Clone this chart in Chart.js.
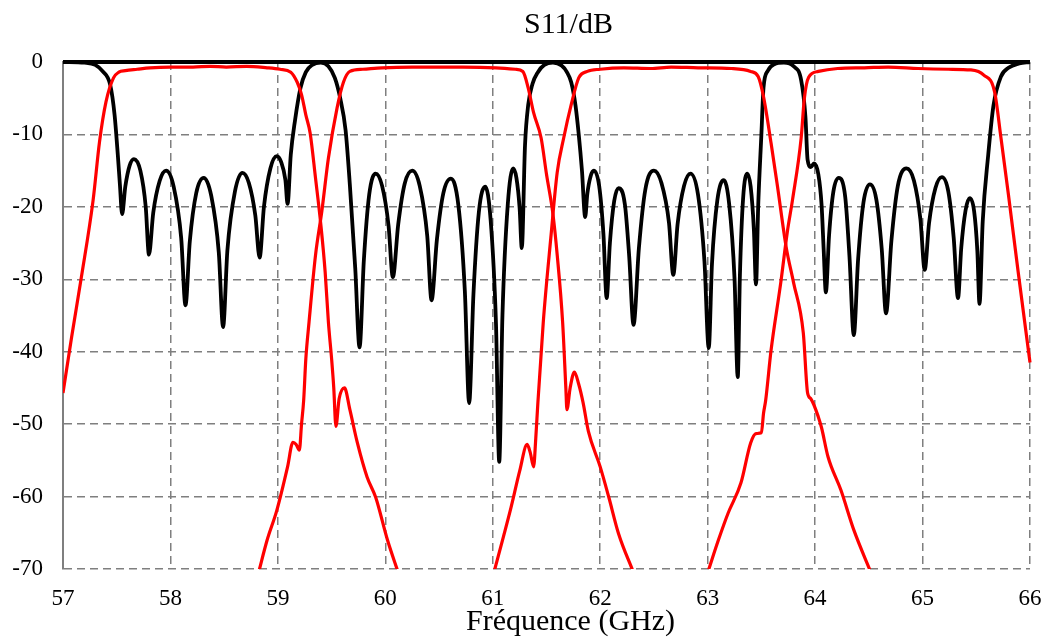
<!DOCTYPE html>
<html>
<head>
<meta charset="utf-8">
<script src="https://cdn.jsdelivr.net/npm/chart.js@4"></script>
<style>
  html, body { margin: 0; padding: 0; background: #fff; }
</style>
</head>
<body>
<canvas id="myChart" width="1042" height="637"></canvas>
<script>
// axis ticks
var freqTicks = [57, 58, 59, 60, 61, 62, 63, 64, 65, 66];
var dbTicks = [0, -10, -20, -30, -40, -50, -60, -70];
var chartTitle = "S11/dB";
var xTitle = "Fréquence (GHz)";

// [GHz, dB]
var s11 = [
  [57.00, 0], [57.20, -0.1], [57.30, -0.4], [57.37, -1.3], [57.44, -3.2], [57.48, -7.3], [57.51, -12.8], [57.53, -17], [57.55, -21],
  [57.58, -17.2], [57.62, -14.3], [57.66, -13.4], [57.72, -15.0], [57.77, -20.0], [57.80, -26.6],
  [57.84, -20.8], [57.90, -16.4], [57.96, -15.0], [58.03, -17.2], [58.10, -24.3], [58.14, -33.6],
  [58.18, -24.8], [58.24, -18.1], [58.31, -16.0], [58.38, -18.5], [58.45, -26.3], [58.49, -36.6],
  [58.53, -26.0], [58.60, -17.9], [58.67, -15.3], [58.73, -16.7], [58.79, -21.2], [58.83, -27.0],
  [58.87, -20.0], [58.93, -14.7], [58.99, -13.0], [59.03, -13.8], [59.07, -16.3], [59.09, -19.6],
  [59.12, -12.8], [59.16, -8.0], [59.21, -3.6], [59.26, -1.4], [59.32, -0.4], [59.40, -0.1], [59.47, -0.6],
  [59.53, -2.2], [59.58, -5.0], [59.63, -9.4], [59.67, -17.0], [59.72, -28.5], [59.76, -39.4],
  [59.80, -27.4], [59.85, -18.3], [59.91, -15.4], [59.97, -17.1], [60.03, -22.6], [60.07, -29.7],
  [60.12, -22.4], [60.18, -16.8], [60.25, -15.0], [60.32, -17.1], [60.39, -24.0], [60.43, -32.9],
  [60.48, -24.5], [60.54, -18.1], [60.61, -16.1], [60.68, -19.8], [60.74, -31.6], [60.78, -47.1],
  [60.82, -32.1], [60.87, -20.8], [60.93, -17.2], [60.98, -21.8], [61.03, -36.2], [61.06, -55.2],
  [61.09, -35.0], [61.14, -19.6], [61.19, -14.7], [61.22, -16.0], [61.25, -20.2], [61.27, -25.7],
  [61.30, -11.5], [61.33, -5.9], [61.37, -3.0], [61.42, -1.4], [61.48, -0.4], [61.56, -0.1], [61.64, -0.5],
  [61.69, -1.4], [61.73, -2.8], [61.77, -6.0], [61.80, -10.0], [61.83, -15.0], [61.86, -21.4],
  [61.88, -18.2], [61.91, -15.8], [61.94, -15.0], [61.99, -17.1], [62.03, -23.8], [62.06, -32.6],
  [62.09, -25.0], [62.13, -19.2], [62.17, -17.4], [62.23, -19.7], [62.27, -26.9], [62.31, -36.3],
  [62.36, -25.7], [62.42, -17.6], [62.50, -15.0], [62.57, -16.7], [62.64, -22.2], [62.68, -29.4],
  [62.72, -22.4], [62.78, -17.1], [62.84, -15.4], [62.91, -18.3], [62.97, -27.5], [63.01, -39.5],
  [63.04, -27.9], [63.09, -19.1], [63.15, -16.3], [63.20, -19.6], [63.25, -29.9], [63.28, -43.5],
  [63.30, -29.5], [63.33, -18.8], [63.37, -15.4], [63.40, -17.2], [63.43, -23.1], [63.45, -30.7],
  [63.47, -20.0], [63.50, -10.0], [63.52, -3.5], [63.56, -1.2], [63.62, -0.3], [63.71, -0.1], [63.80, -0.6],
  [63.87, -2.5], [63.91, -7.6], [63.93, -13.5], [63.96, -14.5], [63.99, -14.0], [64.03, -15.5], [64.06, -19.7], [64.08, -26.0], [64.10, -31.8],
  [64.13, -23.9], [64.17, -17.9], [64.22, -16.0], [64.28, -18.6], [64.32, -26.9], [64.36, -37.7],
  [64.40, -27.3], [64.45, -19.4], [64.51, -16.9], [64.57, -19.0], [64.62, -25.8], [64.66, -34.7],
  [64.71, -24.7], [64.77, -17.1], [64.85, -14.7], [64.92, -16.4], [64.98, -21.7], [65.02, -28.7],
  [65.06, -22.3], [65.12, -17.4], [65.18, -15.9], [65.24, -17.9], [65.29, -24.3], [65.33, -32.6],
  [65.36, -25.7], [65.40, -20.5], [65.44, -18.8], [65.48, -20.6], [65.51, -26.1], [65.53, -33.4],
  [65.56, -22.0], [65.61, -13.0], [65.66, -6.0], [65.73, -2.0], [65.80, -0.8], [65.90, -0.2], [66.00, 0]
];

var s11Top = [[57.00, 0], [66.00, 0]];

var s21Ch1 = [
  [57.00, -45.7], [57.08, -38.0], [57.17, -29.8], [57.28, -19.1], [57.34, -11.0], [57.40, -5.5], [57.47, -2.2],
  [57.52, -1.4], [57.58, -1.2], [57.69, -1.0], [57.81, -0.8], [58.00, -0.7], [58.21, -0.7], [58.37, -0.6],
  [58.52, -0.7], [58.71, -0.6], [58.90, -0.8], [59.02, -1.0], [59.12, -1.4], [59.18, -2.8], [59.22, -4.5],
  [59.26, -7.3], [59.30, -9.8], [59.35, -16.0], [59.40, -22.5], [59.44, -29.0], [59.47, -35.9], [59.50, -41.0],
  [59.52, -45.0], [59.54, -50.3], [59.57, -46.5], [59.62, -45.0], [59.67, -48.0], [59.74, -52.6], [59.83, -57.3],
  [59.91, -60.1], [60.02, -66.0], [60.12, -70.5]
];

var s21Ch2 = [
  [58.82, -70.5], [58.90, -66.0], [58.99, -61.9], [59.09, -55.9], [59.14, -52.5], [59.17, -52.8], [59.20, -53.6],
  [59.22, -50.0], [59.24, -46.7], [59.26, -41.0], [59.29, -35.9], [59.35, -26.7], [59.41, -20.5], [59.47, -13.3],
  [59.55, -6.4], [59.61, -2.8], [59.67, -1.3], [59.79, -1.0], [59.97, -0.8], [60.25, -0.7], [60.47, -0.7],
  [60.72, -0.7], [61.03, -0.8], [61.21, -1.0], [61.28, -1.3], [61.33, -3.6], [61.38, -7.0], [61.45, -10.5],
  [61.50, -15.5], [61.56, -21.0], [61.60, -26.7], [61.65, -35.9], [61.68, -45.0], [61.69, -48.0], [61.72, -45.0],
  [61.76, -42.8], [61.80, -44.5], [61.84, -47.0], [61.89, -51.0], [62.00, -55.9], [62.08, -60.1], [62.17, -65.1],
  [62.31, -70.5]
];

var s21Ch3 = [
  [61.01, -70.5], [61.10, -65.5], [61.17, -61.5], [61.25, -56.5], [61.32, -52.8], [61.35, -54.0], [61.38, -55.9],
  [61.40, -52.0], [61.42, -47.0], [61.47, -35.9], [61.54, -24.3], [61.60, -15.2], [61.66, -10.5], [61.73, -5.9],
  [61.80, -2.2], [61.88, -1.3], [62.00, -1.0], [62.22, -0.8], [62.47, -0.9], [62.66, -0.7], [62.91, -0.8],
  [63.22, -0.9], [63.40, -1.3], [63.47, -2.0], [63.52, -4.8], [63.59, -11.2], [63.65, -17.2], [63.73, -25.5],
  [63.80, -30.5], [63.89, -37.4], [63.93, -45.7], [63.96, -46.5], [64.03, -49.0], [64.06, -50.5], [64.12, -54.5],
  [64.24, -59.1], [64.36, -64.6], [64.52, -70.5]
];

var s21Ch4 = [
  [63.00, -70.5], [63.10, -66.0], [63.19, -62.3], [63.31, -58.1], [63.40, -52.6], [63.45, -51.3], [63.50, -51.2],
  [63.52, -48.5], [63.54, -46.7], [63.59, -39.8], [63.68, -30.5], [63.74, -23.6], [63.79, -19.0], [63.87, -10.5],
  [63.90, -5.0], [63.94, -2.1], [64.03, -1.3], [64.21, -0.9], [64.46, -0.8], [64.68, -0.7], [64.96, -0.9],
  [65.24, -1.0], [65.45, -1.1], [65.57, -1.8], [65.67, -4.1], [65.73, -10.5], [65.80, -18.4], [65.89, -29.0],
  [66.00, -41.5]
];

var toXY = function (pts) {
  return pts.map(function (p) { return { x: p[0], y: p[1] }; });
};

var serif = '"Liberation Serif", "Times New Roman", serif';

function curve(label, pts, color, width) {
  return {
    label: label,
    data: toXY(pts),
    borderColor: color,
    borderWidth: width,
    pointRadius: 0,
    fill: false,
    cubicInterpolationMode: 'monotone',
    clip: { left: 0, top: 5, right: 2, bottom: 0 }
  };
}

// draws the chart title and the x axis name
var titlePlugin = {
  id: 'titles',
  afterDraw: function (chart) {
    var ctx = chart.ctx;
    var area = chart.chartArea;
    var cx = (area.left + area.right) / 2 + 22;
    ctx.save();
    ctx.fillStyle = '#000';
    ctx.textAlign = 'center';
    ctx.textBaseline = 'alphabetic';
    ctx.font = '30px ' + serif;
    ctx.fillText(chartTitle, cx, 33);
    ctx.fillText(xTitle, cx + 2, 630);
    ctx.restore();
  }
};

var chrt = document.getElementById("myChart").getContext("2d");
var chartId = new Chart(chrt, {
  type: 'line',
  data: {
    datasets: [
      curve('S21 canal 1', s21Ch1, '#ff0000', 3.2),
      curve('S21 canal 2', s21Ch2, '#ff0000', 3.2),
      curve('S21 canal 3', s21Ch3, '#ff0000', 3.2),
      curve('S21 canal 4', s21Ch4, '#ff0000', 3.2),
      curve('S11', s11, '#000000', 3.8),
      curve('S11 hors bande', s11Top, '#000000', 3.8)
    ]
  },
  options: {
    responsive: false,
    animation: false,
    layout: { padding: { left: 0, right: 12, top: 62, bottom: 0 } },
    plugins: {
      legend: { display: false },
      tooltip: { enabled: false },
      title: { display: false }
    },
    scales: {
      x: {
        type: 'linear',
        min: freqTicks[0],
        max: freqTicks[freqTicks.length - 1],
        ticks: {
          stepSize: 1,
          autoSkip: false,
          maxRotation: 0,
          padding: 16,
          color: '#000',
          font: { family: serif, size: 23 }
        },
        grid: { color: '#7f7f7f', lineWidth: 1.5, drawTicks: false },
        border: { display: false, dash: [8, 5] },
        afterFit: function (s) { s.height = 68; s.paddingLeft = 0; s.paddingRight = 0; }
      },
      y: {
        min: dbTicks[dbTicks.length - 1],
        max: dbTicks[0],
        ticks: {
          stepSize: 10,
          padding: 20,
          color: '#000',
          font: { family: serif, size: 23 }
        },
        grid: { color: '#7f7f7f', lineWidth: 1.5, drawTicks: false },
        border: { display: true, color: '#7f7f7f', width: 2, dash: [8, 5] },
        afterFit: function (s) { s.width = 63; }
      }
    }
  },
  plugins: [titlePlugin]
});
</script>
</body>
</html>
